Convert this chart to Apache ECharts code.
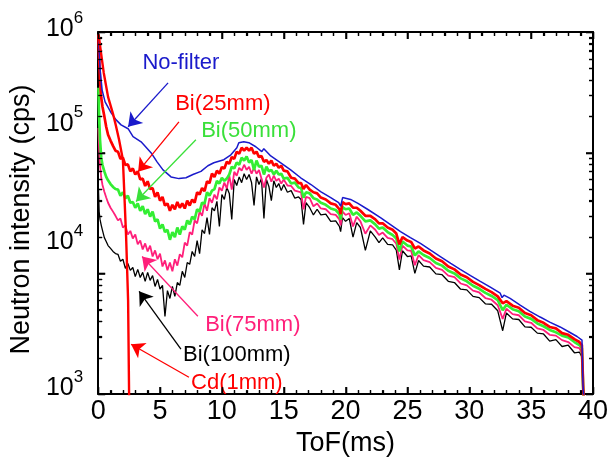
<!DOCTYPE html>
<html><head><meta charset="utf-8">
<script src="https://cdn.jsdelivr.net/npm/echarts@6.0.0/dist/echarts.min.js"></script>
<style>html,body{margin:0;padding:0;background:#fff}#c{width:613px;height:462px}</style>
</head><body><div id="c"></div>
<script>
// ---- data (ToF in ms, intensity in cps) ----
const tof = [0.02,0.08,0.15,0.25,0.35,0.5,0.65,0.8,1.0,1.2,
 1.4,1.6,1.8,2.0,2.2,2.4,2.6,2.8,3.0,3.2,
 3.4,3.6,3.8,4.0,4.2,4.4,4.6,4.8,5.0,5.2,
 5.4,5.6,5.8,6.0,6.2,6.4,6.6,6.8,7.0,7.2,
 7.4,7.6,7.8,8.0,8.2,8.4,8.6,8.8,9.0,9.2,
 9.4,9.6,9.8,10.0,10.2,10.4,10.6,10.8,11.0,11.2,
 11.4,11.6,11.8,12.0,12.2,12.4,12.6,12.8,13.0,13.2,
 13.4,13.6,13.8,14.0,14.2,14.4,14.6,14.8,15.0,15.3,
 15.6,15.9,16.2,16.4,16.6,16.8,17.1,17.4,17.7,18.0,
 18.4,18.8,19.2,19.5,19.6,19.75,20.0,20.3,20.6,20.9,
 21.2,21.6,22.0,22.4,22.7,23.0,23.4,23.8,24.1,24.35,
 24.6,25.0,25.3,25.6,25.9,26.3,26.8,27.3,27.8,28.3,
 28.8,29.3,29.8,30.3,30.8,31.3,31.8,32.3,32.7,33.0,
 33.5,34.0,34.5,35.0,35.5,36.0,36.5,37.0,37.5,38.0,
 38.5,38.9,39.1,39.2,39.3];

const bi25 = [9.4e5,5.9e5,4.0e5,2.85e5,2.4e5,2.0e5,1.64e5,1.41e5,1.26e5,1.14e5,
 1.04e5,1.02e5,8.9e4,9.1e4,7.9e4,8.0e4,7.0e4,7.4e4,6.6e4,7.0e4,
 6.0e4,6.1e4,5.3e4,5.8e4,5.0e4,5.1e4,4.3e4,4.7e4,4.0e4,4.3e4,
 3.65e4,3.8e4,3.3e4,3.7e4,3.4e4,3.9e4,3.5e4,3.8e4,3.45e4,4.0e4,
 3.65e4,4.1e4,3.85e4,4.7e4,4.5e4,5.1e4,4.8e4,5.8e4,5.6e4,6.7e4,
 6.3e4,7.1e4,6.7e4,7.6e4,7.4e4,8.4e4,8.1e4,9.2e4,8.9e4,1.02e5,
 9.8e4,1.1e5,1.04e5,1.1e5,1.04e5,1.1e5,9.8e4,1.02e5,9.2e4,9.4e4,
 8.4e4,8.7e4,8.1e4,8.6e4,7.8e4,8.1e4,7.5e4,7.8e4,7.1e4,7.0e4,
 6.2e4,6.1e4,5.6e4,5.6e4,5.0e4,5.4e4,4.95e4,4.7e4,4.6e4,4.25e4,
 4.1e4,3.8e4,3.7e4,3.4e4,3.1e4,3.9e4,3.75e4,3.8e4,3.5e4,3.5e4,
 3.3e4,3.0e4,3.0e4,2.8e4,2.6e4,2.6e4,2.4e4,2.3e4,2.14e4,1.74e4,
 2.0e4,1.87e4,1.82e4,1.61e4,1.67e4,1.55e4,1.46e4,1.33e4,1.26e4,1.14e4,
 1.08e4,9.8e3,9.3e3,8.5e3,8.0e3,7.45e3,7.0e3,6.45e3,5.65e3,5.9e3,
 5.4e3,5.2e3,4.7e3,4.5e3,4.1e3,3.9e3,3.6e3,3.5e3,3.2e3,3.1e3,
 2.85e3,2.7e3,2.55e3,1.2e3,700];

const bi50 = [3.45e5,1.95e5,1.28e5,9.1e4,7.9e4,7.0e4,6.3e4,5.9e4,5.5e4,5.2e4,
 5.0e4,4.95e4,4.4e4,4.7e4,4.2e4,4.4e4,3.85e4,3.9e4,3.5e4,3.8e4,
 3.3e4,3.6e4,3.1e4,3.4e4,2.95e4,3.25e4,2.7e4,2.8e4,2.35e4,2.55e4,
 2.2e4,2.3e4,1.9e4,2.2e4,2.0e4,2.4e4,2.1e4,2.45e4,2.3e4,2.75e4,
 2.55e4,2.95e4,2.8e4,3.4e4,3.25e4,3.85e4,3.8e4,4.7e4,4.4e4,4.85e4,
 5.0e4,5.85e4,5.55e4,6.2e4,5.85e4,6.1e4,6.6e4,7.65e4,7.4e4,8.3e4,
 7.95e4,9.1e4,8.6e4,9.3e4,8.3e4,8.7e4,7.2e4,8.6e4,7.65e4,7.8e4,
 6.6e4,7.65e4,7.0e4,7.2e4,6.6e4,7.1e4,6.6e4,6.7e4,6.1e4,6.2e4,
 5.55e4,5.65e4,5.15e4,5.1e4,4.25e4,4.7e4,4.6e4,4.2e4,4.1e4,3.85e4,
 3.7e4,3.45e4,3.35e4,3.1e4,2.8e4,3.55e4,3.4e4,3.45e4,3.05e4,3.2e4,
 3.0e4,2.7e4,2.75e4,2.55e4,2.35e4,2.4e4,2.2e4,2.08e4,1.95e4,1.52e4,
 1.84e4,1.7e4,1.67e4,1.41e4,1.52e4,1.42e4,1.34e4,1.22e4,1.16e4,1.05e4,
 1.0e4,9.1e3,8.6e3,7.9e3,7.45e3,6.9e3,6.5e3,6.0e3,4.95e3,5.5e3,
 5.05e3,4.85e3,4.4e3,4.2e3,3.85e3,3.65e3,3.4e3,3.25e3,3.05e3,2.95e3,
 2.7e3,2.55e3,2.4e3,1.15e3,650];

const bi75 = [1.6e5,1.06e5,7.9e4,6.2e4,5.4e4,4.75e4,4.25e4,3.85e4,3.5e4,3.25e4,
 3.0e4,2.75e4,2.85e4,2.4e4,2.5e4,2.1e4,2.25e4,1.95e4,2.1e4,1.74e4,
 1.87e4,1.58e4,1.77e4,1.52e4,1.7e4,1.38e4,1.55e4,1.31e4,1.46e4,1.14e4,
 1.28e4,1.06e4,1.23e4,1.04e4,1.31e4,1.16e4,1.44e4,1.36e4,1.8e4,1.7e4,
 2.2e4,2.1e4,2.75e4,2.6e4,3.25e4,3.0e4,3.8e4,3.3e4,4.2e4,3.85e4,
 4.5e4,4.1e4,5.15e4,4.85e4,5.65e4,5.05e4,6.45e4,4.95e4,6.95e4,6.45e4,
 7.5e4,7.1e4,7.95e4,7.2e4,7.65e4,6.7e4,7.5e4,6.7e4,7.2e4,6.1e4,
 5.15e4,6.2e4,6.6e4,5.75e4,6.45e4,5.85e4,6.1e4,5.55e4,6.0e4,5.35e4,
 5.3e4,4.85e4,4.75e4,4.7e4,3.4e4,4.3e4,4.2e4,3.6e4,3.8e4,3.45e4,
 3.4e4,3.1e4,3.05e4,2.8e4,2.5e4,3.25e4,3.05e4,3.15e4,2.45e4,2.95e4,
 2.7e4,2.13e4,2.5e4,2.3e4,2.08e4,2.18e4,1.97e4,1.92e4,1.76e4,1.3e4,
 1.7e4,1.55e4,1.54e4,1.17e4,1.42e4,1.29e4,1.24e4,1.11e4,1.07e4,9.6e3,
 9.3e3,8.25e3,7.95e3,7.2e3,6.95e3,6.25e3,6.05e3,5.45e3,4.2e3,5.1e3,
 4.6e3,4.5e3,4.0e3,3.9e3,3.5e3,3.4e3,3.1e3,3.05e3,2.8e3,2.7e3,
 2.45e3,2.4e3,2.2e3,1.1e3,600];

const bi100 = [5.15e4,3.25e4,2.8e4,2.5e4,2.27e4,1.98e4,1.84e4,1.7e4,1.61e4,1.52e4,
 1.46e4,1.44e4,1.26e4,1.31e4,1.1e4,1.21e4,1.06e4,1.12e4,9.4e3,1.08e4,
 9.25e3,1.02e4,8.6e3,1.02e4,8.75e3,9.6e3,7.8e3,8.9e3,7.4e3,7.95e3,
 4.4e3,7.2e3,6.2e3,7.8e3,6.45e3,8.4e3,7.95e3,1.04e4,9.25e3,1.23e4,
 1.19e4,1.52e4,1.38e4,1.87e4,1.46e4,2.3e4,2.14e4,2.9e4,2.1e4,3.5e4,
 3.3e4,3.95e4,2.45e4,4.5e4,4.1e4,5.15e4,4.6e4,2.8e4,6.0e4,5.35e4,
 6.3e4,5.65e4,6.7e4,6.0e4,6.6e4,5.65e4,3.65e4,6.3e4,5.45e4,6.1e4,
 2.85e4,6.0e4,5.25e4,4.0e4,5.85e4,5.15e4,5.55e4,4.85e4,5.45e4,4.7e4,
 4.85e4,4.2e4,4.3e4,4.1e4,2.55e4,3.85e4,3.5e4,3.05e4,3.4e4,3.05e4,
 3.1e4,2.7e4,2.72e4,2.45e4,2.22e4,2.9e4,2.7e4,2.85e4,2.0e4,2.63e4,
 2.4e4,1.55e4,2.25e4,2.0e4,1.8e4,1.97e4,1.74e4,1.72e4,1.56e4,1.07e4,
 1.54e4,1.38e4,1.4e4,1.0e4,1.28e4,1.15e4,1.13e4,9.9e3,9.75e3,8.6e3,
 8.4e3,7.4e3,7.3e3,6.45e3,6.3e3,5.6e3,5.55e3,4.9e3,3.35e3,4.7e3,
 4.2e3,4.15e3,3.6e3,3.58e3,3.2e3,3.15e3,2.75e3,2.83e3,2.48e3,2.54e3,
 2.2e3,2.23e3,2.03e3,1.05e3,550];

const blueT = [0.04,0.16,0.32,0.56,1.05,1.45,1.85,2.42,2.82,3.47,
 4.27,4.76,5.24,5.89,6.53,7.1,7.66,8.31,8.87,9.35,
 10.16,10.73,11.21,11.37,11.77,12.18,12.74,13.23,13.39,13.95,
 14.76,15.56,16.37,17.2,17.98,18.8,19.44,19.6,19.76,20.4,
 21.0,21.77,22.82,23.6,24.44,25.24,26.05,26.9,27.66,28.5,
 29.27,30.1,30.89,31.7,32.5,32.65,32.8,33.3,34.11,34.9,
 35.73,36.5,37.34,38.0,38.71,39.11,39.19,39.27];
const noFilter = [8.6e5,4.85e5,3.3e5,2.64e5,2.14e5,1.87e5,1.7e5,1.58e5,1.36e5,1.23e5,
 1.0e5,8.4e4,7.2e4,6.3e4,6.1e4,6.2e4,6.6e4,7.0e4,7.8e4,8.25e4,
 8.75e4,9.6e4,1.1e5,1.21e5,1.23e5,1.21e5,1.12e5,1.02e5,1.08e5,9.4e4,
 8.25e4,7.2e4,6.2e4,5.45e4,4.75e4,4.25e4,3.85e4,3.6e4,4.25e4,4.1e4,
 3.8e4,3.4e4,2.9e4,2.55e4,2.22e4,1.98e4,1.77e4,1.55e4,1.38e4,1.21e4,
 1.08e4,9.6e3,8.6e3,7.7e3,6.85e3,6.3e3,6.6e3,6.2e3,5.45e3,4.85e3,
 4.35e3,3.95e3,3.6e3,3.3e3,3.0e3,2.8e3,1.2e3,900];

const cdT = [0.03,0.25,0.45,0.8,1.2,1.45,1.69,2.0,2.1,2.26,2.42,2.5,2.56];
const cd1 = [9.6e5,6.5e5,4.6e5,2.9e5,2.1e5,1.65e5,1.28e5,8.75e4,5.0e4,2.0e4,6.0e3,1.0e3,400];

// tick values for the frame (x every 1 ms, major every 5; y decades with 2..9 minors)
const xTickVals = [0,1,2,3,4,5,6,7,8,9,10,11,12,13,14,15,16,17,18,19,20,
 21,22,23,24,25,26,27,28,29,30,31,32,33,34,35,36,37,38,39,40];
const yTickVals = [1e3,2e3,3e3,4e3,5e3,6e3,7e3,8e3,9e3,1e4,2e4,3e4,4e4,5e4,6e4,7e4,8e4,9e4,
 1e5,2e5,3e5,4e5,5e5,6e5,7e5,8e5,9e5,1e6];

// annotation texts
const noteText = ['No-filter','Bi(25mm)','Bi(50mm)','Bi(75mm)','Bi(100mm)','Cd(1mm)'];
const noteT = [6.69,10.08,12.18,12.5,11.21,11.21];
const noteV = [5.54e5,2.54e5,1.52e5,3.72e3,2.1e3,1.23e3];
// arrows: from (t0,v0) to (t1,v1)
const arrowT0 = [5.65,6.53,7.9,8.06,6.69,7.34];
const arrowV0 = [3.79e5,1.8e5,1.28e5,4.41e3,2.36e3,1.38e3];
const arrowT1 = [2.42,3.23,3.06,3.55,3.31,2.66];
const arrowV1 = [1.64e5,6.96e4,3.94e4,1.38e4,7.1e3,2.59e3];

// ---- styling ----
const FONT = '"Liberation Sans", Arial, sans-serif';
const C_BLUE = '#1a1acb', C_RED = '#ff0000', C_GREEN = '#33ee33', C_PINK = '#ff1f7a', C_BLACK = '#000000';
const noteColors = [C_BLUE, C_RED, '#3ae03a', C_PINK, C_BLACK, C_RED];
const MAJOR_LEN = 7, MINOR_LEN = 4;

function pairs(xs, ys){ return xs.map((x,i)=>[x, ys[i]]); }

const lift = {3:12, 4:62, 5:58, 6:6};
const rich = {};
[3,4,5,6].forEach(e=>{
  rich['b'+e] = {fontSize:25, fontFamily:FONT, color:'#000', padding:[0,0,lift[e],0]};
  rich['s'+e] = {fontSize:17, fontFamily:FONT, color:'#000', padding:[0,0,lift[e]+22,0]};
});

function yAxisDef(pos, withLabel){
  const a = {type:'log', logBase:10, min:1000, max:1000000, position:pos,
    axisLine:{show:true, onZero:false, lineStyle:{color:'#000', width:2}},
    axisTick:{show:true, inside:true, length:MAJOR_LEN, lineStyle:{color:'#000', width:1.5}},
    minorTick:{show:true, splitNumber:9, length:MINOR_LEN, lineStyle:{color:'#000', width:1.2}},
    splitLine:{show:false}, minorSplitLine:{show:false},
    axisLabel:{show:false}};
  if (withLabel) {
    a.axisLabel = {show:true, margin:15,
      formatter:v=>{const e=Math.round(Math.log10(v)); return '{b'+e+'|10}{s'+e+'|'+e+'}';}, rich};
    a.name = 'Neutron intensity (cps)';
    a.nameLocation = 'middle'; a.nameGap = 55; a.nameRotate = 90;
    a.nameTextStyle = {fontSize:27, color:'#000', fontFamily:FONT, padding:[0,13,0,0]};
  }
  return a;
}
function xAxisDef(pos, withLabel){
  const a = {type:'value', min:0, max:40, interval:5, position:pos,
    axisLine:{show:true, onZero:false, lineStyle:{color:'#000', width:2}},
    axisTick:{show:true, inside:true, length:MAJOR_LEN, lineStyle:{color:'#000', width:1.5}},
    minorTick:{show:true, splitNumber:5, length:MINOR_LEN, lineStyle:{color:'#000', width:1.2}},
    splitLine:{show:false}, minorSplitLine:{show:false},
    axisLabel:{show:false}};
  if (withLabel) {
    a.axisLabel = {show:true, margin:4, fontSize:27, color:'#000', fontFamily:FONT};
    a.name = 'ToF(ms)'; a.nameLocation = 'middle'; a.nameGap = 28;
    a.nameTextStyle = {fontSize:27, color:'#000', fontFamily:FONT};
  }
  return a;
}

function lineSeries(name, data, color, width){
  return {name, type:'line', data, showSymbol:false, symbol:'none',
    lineStyle:{color, width}, itemStyle:{color}};
}

const blueSeries = lineSeries('No-filter', pairs(blueT, noFilter), C_BLUE, 1.5);
blueSeries.markLine = {
  silent:true, symbol:['none','arrow'], symbolSize:13,
  label:{show:false},
  data: arrowT0.map((t,i)=>[
    {coord:[t, arrowV0[i]], lineStyle:{color:noteColors[i], width:1.3, type:'solid'}, itemStyle:{color:noteColors[i]}},
    {coord:[arrowT1[i], arrowV1[i]]}
  ])
};
blueSeries.markPoint = {
  silent:true, symbol:'circle', symbolSize:1, itemStyle:{color:'rgba(0,0,0,0)'},
  label:{show:true, position:'inside', formatter:'{b}', fontSize:22, fontFamily:FONT},
  data: noteText.map((s,i)=>({name:s, coord:[noteT[i], noteV[i]], label:{color:noteColors[i]}}))
};

// frame tick marks drawn from the axis scales (inside ticks on all four sides)
function tickLine(x1, y1, x2, y2, w){
  return {type:'line', shape:{x1, y1, x2, y2}, style:{stroke:'#000', lineWidth:w}, silent:true};
}
const xTickSeries = {
  type:'custom', name:'xticks', silent:true, clip:false, z:10,
  data: xTickVals.map(v=>[v, 1e6]),
  renderItem:(params, api)=>{
    const v = api.value(0);
    const cs = params.coordSys;
    const px = Math.round(api.coord([v, 1e6])[0]) + 0.5;
    const major = v % 5 === 0;
    const len = major ? MAJOR_LEN : MINOR_LEN, w = major ? 1.6 : 1.3;
    const yb = cs.y + cs.height, yt = cs.y;
    return {type:'group', children:[tickLine(px, yb, px, yb - len, w), tickLine(px, yt, px, yt + len, w)]};
  }
};
const yTickSeries = {
  type:'custom', name:'yticks', silent:true, clip:false, z:10,
  data: yTickVals.map(v=>[0, v]),
  renderItem:(params, api)=>{
    const v = api.value(1);
    const cs = params.coordSys;
    const py = Math.round(api.coord([0, v])[1]) + 0.5;
    const lg = Math.log10(v);
    const major = Math.abs(lg - Math.round(lg)) < 1e-6;
    const len = major ? MAJOR_LEN : MINOR_LEN, w = major ? 1.6 : 1.3;
    const xl = cs.x, xr = cs.x + cs.width;
    return {type:'group', children:[tickLine(xl, py, xl + len, py, w), tickLine(xr, py, xr - len, py, w)]};
  }
};

const option = {
  animation:false,
  grid:{left:97, top:32, right:20, bottom:67},
  xAxis:[xAxisDef('bottom', true), xAxisDef('top', false)],
  yAxis:[yAxisDef('left', true), yAxisDef('right', false)],
  series:[
    lineSeries('Bi(100mm)', pairs(tof, bi100), C_BLACK, 1.3),
    lineSeries('Bi(75mm)', pairs(tof, bi75), C_PINK, 1.8),
    lineSeries('Bi(50mm)', pairs(tof, bi50), C_GREEN, 2.7),
    lineSeries('Bi(25mm)', pairs(tof, bi25), C_RED, 2.7),
    blueSeries,
    lineSeries('Cd(1mm)', pairs(cdT, cd1), C_RED, 2.4),
    xTickSeries,
    yTickSeries
  ]
};
echarts.init(document.getElementById('c')).setOption(option);
</script>
</body></html>
